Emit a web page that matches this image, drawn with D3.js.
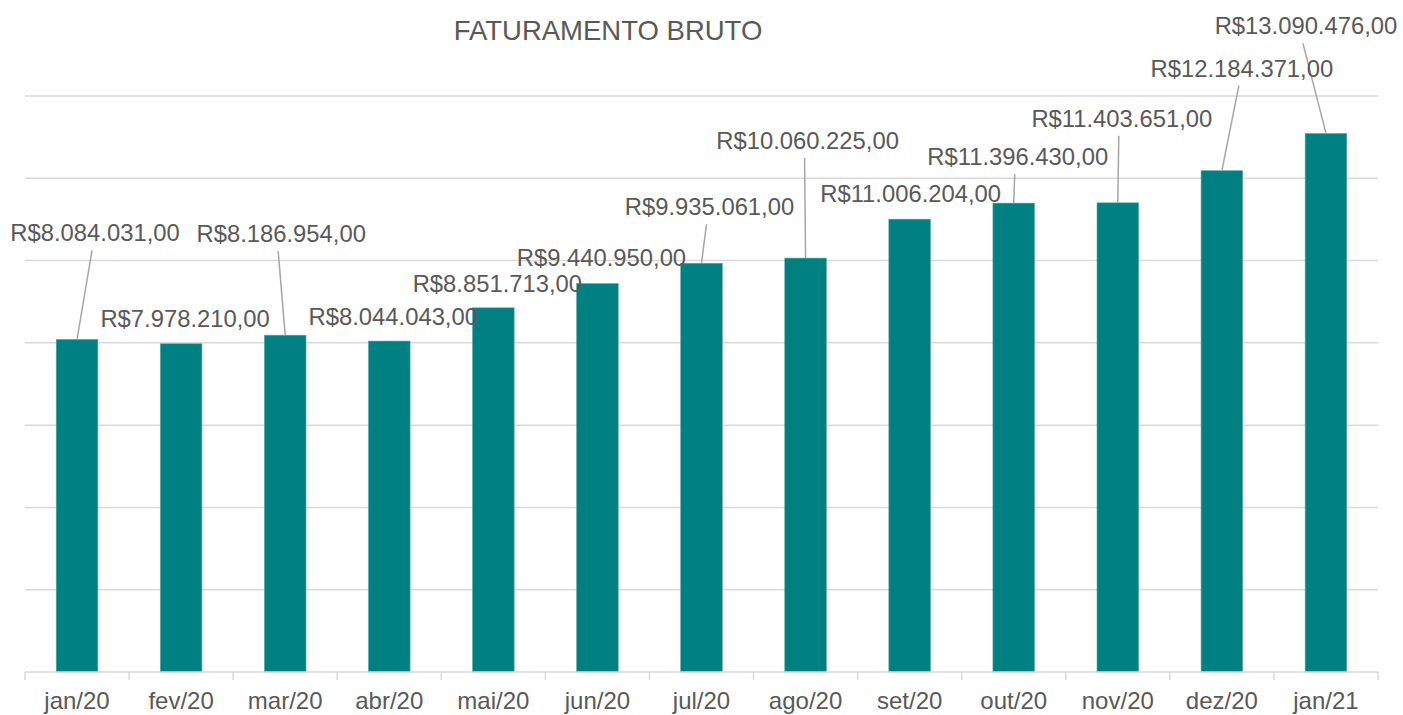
<!DOCTYPE html>
<html>
<head>
<meta charset="utf-8">
<script src="https://cdn.jsdelivr.net/npm/d3@7"></script>
<style>
  html, body { margin: 0; padding: 0; background: #fff; }
  svg text { font-family: "Liberation Sans", Arial, sans-serif; fill: #595959; }
</style>
</head>
<body>
<svg id="chart"></svg>
<script>
const months = ["jan/20","fev/20","mar/20","abr/20","mai/20","jun/20","jul/20",
                "ago/20","set/20","out/20","nov/20","dez/20","jan/21"];
const faturamento = [8084031, 7978210, 8186954, 8044043, 8851713, 9440950, 9935061,
                     10060225, 11006204, 11396430, 11403651, 12184371, 13090476];
const yTicks = [0, 2000000, 4000000, 6000000, 8000000, 10000000, 12000000, 14000000];

// label placement (offset from top-center of bar), as Excel left them
const labelOffsets = [[18,-98],[4,-17],[-4,-93],[4,-16],[4,-16],[4,-18],[8,-48],
                      [2,-109],[1,-17],[4,-38],[4,-76],[20,-94],[-20,-99]];
const hasLeader = [true,false,true,false,false,false,true,true,false,true,true,true,true];

const width = 1403, height = 715;
const svg = d3.select("#chart").attr("width", width).attr("height", height);

let xScale = d3.scaleBand().domain(months).range([25, 1378]).paddingInner(0.6).paddingOuter(0.3),
    yScale = d3.scaleLinear().domain([0, 14000000]).range([672, 96]);

const fmt = v => "R$" + d3.format(",.2f")(v).replace(/,/g, "#").replace(".", ",").replace(/#/g, ".");

/* title */
svg.append("text")
    .attr("x", 608).attr("y", 40)
    .attr("text-anchor", "middle")
    .style("font-size", "27.5px")
    .text("FATURAMENTO BRUTO");

/* grid */
svg.append("g").selectAll("line")
    .data(yTicks.filter(d => d > 0))
    .enter().append("line")
    .attr("x1", 25).attr("x2", 1378)
    .attr("y1", d => yScale(d)).attr("y2", d => yScale(d))
    .attr("stroke", "#d9d9d9").attr("stroke-width", 1.5);

/* bars */
svg.append("g").selectAll("rect")
    .data(faturamento)
    .enter().append("rect")
    .attr("x", (d, i) => xScale(months[i]))
    .attr("width", xScale.bandwidth())
    .attr("y", d => yScale(d))
    .attr("height", d => yScale(0) - yScale(d))
    .attr("fill", "#008080")
    .attr("stroke", "#5aa9a9").attr("stroke-width", 0.6);

/* x axis */
const band = d3.scaleBand().domain(months).range([25, 1378]);
const ax = svg.append("g");
ax.append("line")
    .attr("x1", 25).attr("x2", 1378).attr("y1", 672).attr("y2", 672)
    .attr("stroke", "#d9d9d9").attr("stroke-width", 1.5);
ax.selectAll(".tick")
    .data(months.concat(["end"]))
    .enter().append("line")
    .attr("x1", (d, i) => i < months.length ? band(d) : 1378)
    .attr("x2", (d, i) => i < months.length ? band(d) : 1378)
    .attr("y1", 672).attr("y2", 680)
    .attr("stroke", "#d9d9d9").attr("stroke-width", 1.5);
ax.selectAll("text")
    .data(months)
    .enter().append("text")
    .attr("x", d => band(d) + band.bandwidth() / 2)
    .attr("y", 709)
    .attr("text-anchor", "middle")
    .style("font-size", "24px")
    .text(d => d);

/* data labels + leader lines */
const cx = i => xScale(months[i]) + xScale.bandwidth() / 2;
const lg = svg.append("g");
lg.selectAll("line")
    .data(faturamento.map((v, i) => i).filter(i => hasLeader[i]))
    .enter().append("line")
    .attr("x1", i => cx(i) + labelOffsets[i][0] - 3)
    .attr("y1", i => yScale(faturamento[i]) + labelOffsets[i][1] + 9)
    .attr("x2", i => cx(i))
    .attr("y2", i => yScale(faturamento[i]))
    .attr("stroke", "#a6a6a6").attr("stroke-width", 1.5);
lg.selectAll("text")
    .data(faturamento)
    .enter().append("text")
    .attr("x", (d, i) => cx(i) + labelOffsets[i][0])
    .attr("y", (d, i) => yScale(d) + labelOffsets[i][1])
    .attr("text-anchor", "middle")
    .style("font-size", "23.8px")
    .text(d => fmt(d));
</script>
</body>
</html>
